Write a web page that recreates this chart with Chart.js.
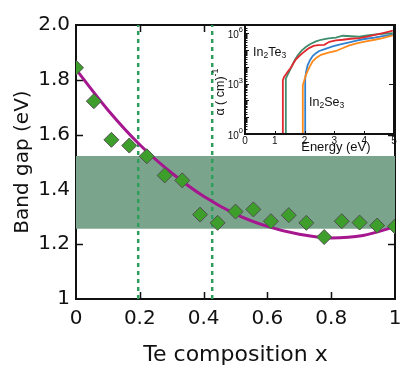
<!DOCTYPE html>
<html>
<head>
<meta charset="utf-8">
<script src="https://cdn.jsdelivr.net/npm/chart.js@4.4.1/dist/chart.umd.min.js"></script>
<style>
  html, body { margin: 0; padding: 0; background: #fff; }
  #wrap { position: relative; width: 416px; height: 377px; overflow: hidden; }
  #main { position: absolute; left: 0; top: 0; }
  #inset { position: absolute; left: 205px; top: 14px; }
</style>
</head>
<body>
<div id="wrap">
  <canvas id="main" width="416" height="377"></canvas>
  <canvas id="inset" width="211" height="146"></canvas>
</div>
<script>
// main panel: band gap vs Te composition
const teX = [0, 0.056, 0.111, 0.167, 0.222, 0.278, 0.333, 0.389, 0.444, 0.5,
  0.556, 0.611, 0.667, 0.722, 0.778, 0.833, 0.889, 0.944, 1];
const bandGap = [1.844, 1.722, 1.581, 1.56, 1.521, 1.451, 1.433, 1.308, 1.278, 1.319,
  1.327, 1.284, 1.306, 1.278, 1.226, 1.284, 1.279, 1.268, 1.265];
const fitX = [0, 0.1, 0.2, 0.3, 0.4, 0.5, 0.6, 0.7, 0.8, 0.9, 1];
const fitGap = [1.838, 1.69, 1.563, 1.46, 1.375, 1.31, 1.265, 1.236, 1.223, 1.232, 1.264];
const bandRange = [1.256, 1.522];
const dashedX = [0.195, 0.427];
const xTicks = [0, 0.2, 0.4, 0.6, 0.8, 1];
const yTicks = [1, 1.2, 1.4, 1.6, 1.8, 2];

// inset: absorption coefficient (log10 of alpha) vs energy
const te3GreenE = [1.37, 1.37, 1.42, 1.48, 1.56, 1.65, 1.77, 1.9, 2.05, 2.21, 2.38, 2.55, 2.8, 3.05, 3.28, 3.55, 3.84, 4.1, 4.4, 4.7, 4.96];
const te3GreenLogA = [0, 3.3, 3.5, 3.7, 4.0, 4.35, 4.7, 4.97, 5.2, 5.38, 5.52, 5.62, 5.7, 5.75, 5.86, 5.83, 5.8, 5.88, 5.94, 5.98, 6.02];
const te3RedE = [1.27, 1.27, 1.31, 1.37, 1.45, 1.54, 1.62, 1.71, 1.82, 1.93, 2.04, 2.15, 2.3, 2.45, 2.66, 2.83, 3.05, 3.28, 3.55, 3.84, 4.1, 4.4, 4.7, 4.96];
const te3RedLogA = [0, 3.2, 3.4, 3.55, 3.75, 3.95, 4.2, 4.45, 4.65, 4.82, 4.98, 5.12, 5.25, 5.3, 5.32, 5.5, 5.58, 5.62, 5.68, 5.72, 5.8, 5.92, 6.05, 6.16];
const se3BlueE = [2.02, 2.02, 2.05, 2.1, 2.18, 2.27, 2.38, 2.49, 2.7, 2.94, 3.2, 3.5, 3.78, 4.06, 4.35, 4.62, 4.96];
const se3BlueLogA = [0, 3.3, 3.7, 4.1, 4.4, 4.65, 4.82, 4.95, 5.08, 5.22, 5.35, 5.47, 5.58, 5.68, 5.75, 5.83, 5.92];
const se3OrangeE = [1.94, 1.94, 1.99, 2.04, 2.1, 2.18, 2.27, 2.4, 2.55, 2.8, 3.05, 3.25, 3.5, 3.78, 4.06, 4.35, 4.62, 4.96];
const se3OrangeLogA = [0, 2.9, 3.2, 3.5, 3.75, 4.05, 4.33, 4.55, 4.72, 4.85, 4.95, 5.1, 5.28, 5.42, 5.52, 5.62, 5.72, 5.88];
const insetLogTicks = [0, 3, 6];
const insetEnergyTicks = [0, 1, 2, 3, 4, 5];

const toPoints = (xs, ys) => xs.map((x, i) => ({ x, y: ys[i] }));
const toLogPoints = (xs, logs) => xs.map((x, i) => ({ x, y: 10 ** logs[i] }));

const mainFont = "'DejaVu Sans', Verdana, sans-serif";
const insetFont = "'Liberation Sans', Arial, sans-serif";

const mainFrame = {
  id: "mainFrame",
  beforeDatasetsDraw(chart) {
    const { ctx, chartArea: a, scales } = chart;
    ctx.save();
    ctx.strokeStyle = "#111";
    ctx.lineWidth = 2;
    ctx.strokeRect(a.left, a.top, a.right - a.left, a.bottom - a.top);
    ctx.lineWidth = 1.5;
    ctx.beginPath();
    xTicks.slice(1, -1).forEach((v) => {
      const px = Math.round(scales.x.getPixelForValue(v)) + 0.5;
      ctx.moveTo(px, a.bottom); ctx.lineTo(px, a.bottom - 7);
      ctx.moveTo(px, a.top); ctx.lineTo(px, a.top + 7);
    });
    yTicks.slice(1, -1).forEach((v) => {
      const py = Math.round(scales.y.getPixelForValue(v)) + 0.5;
      ctx.moveTo(a.left, py); ctx.lineTo(a.left + 7, py);
      ctx.moveTo(a.right, py); ctx.lineTo(a.right - 7, py);
    });
    ctx.stroke();
    ctx.restore();
  },
};

new Chart(document.getElementById("main"), {
  type: "scatter",
  data: {
    datasets: [
      {
        data: toPoints(teX, bandGap),
        pointStyle: "rectRot",
        pointRadius: 7.5,
        backgroundColor: "#3e9e2c",
        borderColor: "#505050",
        borderWidth: 1,
        order: 0,
      },
      {
        type: "line",
        data: toPoints(fitX, fitGap),
        borderColor: "#a5168f",
        borderWidth: 3,
        pointRadius: 0,
        cubicInterpolationMode: "monotone",
        order: 1,
      },
      ...dashedX.map((x) => ({
        type: "line",
        data: toPoints([x, x], [yTicks[0], yTicks[yTicks.length - 1]]),
        borderColor: "#2f9e5c",
        borderWidth: 2.5,
        borderDash: [4, 4],
        pointRadius: 0,
        order: 2,
      })),
      {
        type: "line",
        data: toPoints([0, 1], [bandRange[1], bandRange[1]]),
        borderWidth: 0,
        borderColor: "rgba(0,0,0,0)",
        backgroundColor: "#7ba48d",
        fill: { value: bandRange[0] },
        pointRadius: 0,
        order: 3,
      },
    ],
  },
  options: {
    responsive: false,
    animation: false,
    events: [],
    layout: { padding: { top: 25, right: 21, left: 0, bottom: 0 } },
    plugins: { legend: { display: false }, tooltip: { enabled: false } },
    scales: {
      x: {
        type: "linear",
        min: 0,
        max: 1,
        afterBuildTicks: (s) => { s.ticks = xTicks.map((value) => ({ value })); },
        afterFit: (s) => { s.height = 78; },
        grid: { display: false, drawTicks: false },
        border: { display: false },
        ticks: {
          autoSkip: false,
          maxRotation: 0,
          padding: 8,
          color: "#111",
          font: { family: mainFont, size: 20 },
          callback: (v) => (v === 0 || v === 1 ? String(v) : v.toFixed(1)),
        },
        title: {
          display: true,
          text: "Te composition x",
          color: "#111",
          font: { family: mainFont, size: 22, lineHeight: 1.2 },
          padding: { top: 0, bottom: 9 },
        },
      },
      y: {
        type: "linear",
        min: 1,
        max: 2,
        afterBuildTicks: (s) => { s.ticks = yTicks.map((value) => ({ value })); },
        afterFit: (s) => { s.width = 76; },
        grid: { display: false, drawTicks: false },
        border: { display: false },
        ticks: {
          autoSkip: false,
          padding: 6,
          color: "#111",
          font: { family: mainFont, size: 20 },
          callback: (v) => (v === 1 ? "1" : v.toFixed(1)),
        },
        title: {
          display: true,
          text: "Band gap (eV)",
          color: "#111",
          font: { family: mainFont, size: 20, lineHeight: 1.2 },
          padding: { top: 11, bottom: 0 },
        },
      },
    },
  },
  plugins: [mainFrame],
});

function drawFormula(ctx, parts, x, y) {
  // parts alternate normal text and subscript digits
  let cx = x;
  parts.forEach((p, i) => {
    const sub = i % 2 === 1;
    ctx.font = sub ? `8.5px ${insetFont}` : `12.5px ${insetFont}`;
    ctx.fillText(p, cx, sub ? y + 3 : y);
    cx += ctx.measureText(p).width;
  });
}

const insetDeco = {
  id: "insetDeco",
  beforeDraw(chart) {
    const { ctx, chartArea: a } = chart;
    ctx.save();
    ctx.fillStyle = "#fff";
    ctx.fillRect(a.left, a.top, a.right - a.left, a.bottom - a.top);
    ctx.restore();
  },
  afterDatasetsDraw(chart) {
    const { ctx, chartArea: a, scales } = chart;
    ctx.save();
    ctx.strokeStyle = "#111";
    ctx.lineWidth = 2;
    ctx.strokeRect(a.left, a.top, a.right - a.left, a.bottom - a.top);
    ctx.lineWidth = 1;
    ctx.beginPath();
    scales.y.ticks.forEach((t) => {
      if (t.value <= scales.y.min || t.value >= scales.y.max) return;
      const py = Math.round(scales.y.getPixelForValue(t.value)) + 0.5;
      const lg = Math.log10(t.value);
      const major = Math.abs(lg - Math.round(lg)) < 1e-9;
      ctx.moveTo(a.left, py); ctx.lineTo(a.left + (major ? 4 : 2.5), py);
      if (major && Math.round(lg) === insetLogTicks[1]) {
        ctx.moveTo(a.right, py); ctx.lineTo(a.right - 5, py);
      }
    });
    insetEnergyTicks.slice(1, -1).forEach((v) => {
      const px = Math.round(scales.x.getPixelForValue(v)) + 0.5;
      ctx.moveTo(px, a.bottom); ctx.lineTo(px, a.bottom - 3);
    });
    ctx.stroke();
    ctx.restore();
  },
  afterDraw(chart) {
    const { ctx, chartArea: a, scales } = chart;
    ctx.save();
    ctx.fillStyle = "#111";
    ctx.textBaseline = "middle";
    ctx.textAlign = "left";
    drawFormula(ctx, ["In", "2", "Te", "3"], scales.x.getPixelForValue(0.27), scales.y.getPixelForValue(10 ** 4.88));
    drawFormula(ctx, ["In", "2", "Se", "3"], scales.x.getPixelForValue(2.15), scales.y.getPixelForValue(10 ** 1.87));

    // log tick labels: 10 with a raised exponent
    insetLogTicks.forEach((p) => {
      const py = scales.y.getPixelForValue(10 ** p) + 2;
      ctx.font = `7.5px ${insetFont}`;
      const ew = ctx.measureText(String(p)).width;
      ctx.textAlign = "right";
      ctx.fillText(String(p), a.left - 2, py - 5);
      ctx.font = `10px ${insetFont}`;
      ctx.fillText("10", a.left - 2 - ew, py);
    });

    ctx.textAlign = "center";
    ctx.font = `13px ${insetFont}`;
    ctx.fillText("Energy (eV)", scales.x.getPixelForValue(3.05), 133);
    ctx.translate(16, 78);
    ctx.rotate(-Math.PI / 2);
    ctx.font = `12.5px ${insetFont}`;
    ctx.textAlign = "left";
    const base = "\u03b1 ( cm)";
    const bw = ctx.measureText(base).width;
    ctx.font = `9px ${insetFont}`;
    const sw = ctx.measureText("-1").width;
    ctx.font = `12.5px ${insetFont}`;
    ctx.fillText(base, -(bw + sw) / 2, 0);
    ctx.font = `9px ${insetFont}`;
    ctx.fillText("-1", -(bw + sw) / 2 + bw, -5);
    ctx.restore();
  },
};

const insetLine = (xs, logs, color) => ({
  data: toLogPoints(xs, logs),
  borderColor: color,
  borderWidth: 1.8,
  pointRadius: 0,
  tension: 0,
});

new Chart(document.getElementById("inset"), {
  type: "line",
  data: {
    datasets: [
      insetLine(te3RedE, te3RedLogA, "#e0282e"),
      insetLine(te3GreenE, te3GreenLogA, "#3f8c6c"),
      insetLine(se3OrangeE, se3OrangeLogA, "#ff8a1c"),
      insetLine(se3BlueE, se3BlueLogA, "#2f80cf"),
    ],
  },
  options: {
    responsive: false,
    animation: false,
    events: [],
    layout: { padding: { top: 11, right: 22, left: 0, bottom: 0 } },
    plugins: { legend: { display: false }, tooltip: { enabled: false } },
    scales: {
      x: {
        type: "linear",
        min: 0,
        max: 5,
        afterBuildTicks: (s) => { s.ticks = insetEnergyTicks.map((value) => ({ value })); },
        afterFit: (s) => { s.height = 26; },
        grid: { display: false, drawTicks: false },
        border: { display: false },
        ticks: {
          autoSkip: false,
          maxRotation: 0,
          padding: 1,
          color: "#111",
          font: { family: insetFont, size: 10 },
        },
      },
      y: {
        type: "logarithmic",
        min: 1,
        max: 10 ** 6.5,
        afterFit: (s) => { s.width = 40; },
        grid: { display: false, drawTicks: false },
        border: { display: false },
        ticks: {
          autoSkip: false,
          display: true,
          padding: 2,
          callback: () => "",
        },
      },
    },
  },
  plugins: [insetDeco],
});
</script>
</body>
</html>
